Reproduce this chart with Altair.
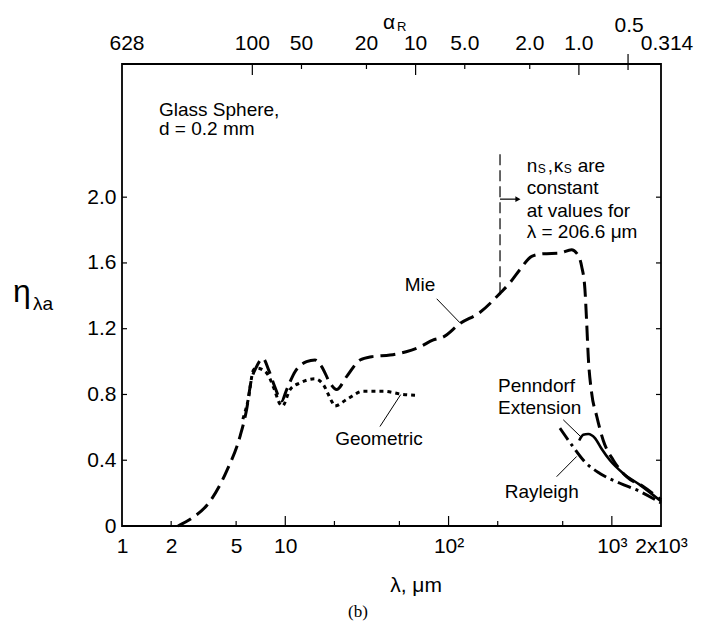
import altair as alt
import pandas as pd
import numpy as np

# ---------------- data ----------------
mie_lam = [2.2, 2.7, 3.4, 4.4, 5.3, 5.8, 6.2, 6.6, 7.3, 7.9, 8.6, 9.5, 10.2, 11.5, 13.5,
           15.2, 16.7, 18.8, 20.6, 23.8, 28.7, 33.8, 43.8, 55, 67, 80, 93, 117, 156, 206.6,
           238, 274, 323, 380, 481, 567, 608, 653, 684, 701, 717, 752, 807, 886, 1021,
           1231, 1556, 2000]
mie_eta = [0.0, 0.05, 0.14, 0.34, 0.55, 0.71, 0.89, 0.96, 1.02, 0.95, 0.85, 0.76, 0.83, 0.94, 1.00,
           1.01, 0.97, 0.87, 0.83, 0.91, 1.01, 1.03, 1.04, 1.06, 1.09, 1.13, 1.15, 1.23, 1.30, 1.415,
           1.48, 1.56, 1.64, 1.656, 1.66, 1.68, 1.66, 1.58, 1.44, 1.24, 1.03, 0.81, 0.67, 0.52, 0.40,
           0.30, 0.24, 0.16]

geo_lam = [5.5, 5.9, 6.4, 6.7, 7.7, 8.5, 9.3, 9.6, 10.7, 12.3, 15.2, 17.1, 19.2, 20.1, 23.8,
           30.1, 39.8, 52.8, 62.3]
geo_eta = [0.65, 0.76, 0.95, 0.96, 0.93, 0.84, 0.74, 0.73, 0.83, 0.87, 0.895, 0.86, 0.76, 0.73, 0.77,
           0.82, 0.82, 0.80, 0.795]

pen_lam = [631, 668, 717, 788, 865, 973, 1175, 1486, 2000]
pen_eta = [0.52, 0.555, 0.56, 0.535, 0.47, 0.40, 0.32, 0.25, 0.15]

ray_lam = [481, 581, 684, 845, 1122, 1486, 2000]
ray_eta = [0.595, 0.48, 0.39, 0.32, 0.26, 0.21, 0.14]

x_tick_vals = [1, 2, 5, 10, 100, 1000, 2000]
x_minor = [2, 5, 20, 50, 200, 500]
x_major = [10, 100, 1000]
y_tick_vals = [0, 0.4, 0.8, 1.2, 1.6, 2.0]
y_inner_ticks = [0.4, 0.8, 1.2, 1.6, 2.0]

alpha_major = [100, 10, 1]
alpha_minor = [50, 20, 5, 2]
alpha_mid_vals = [100, 50, 20, 10, 5, 2, 1]
alpha_mid_text = ["100", "50", "20", "10", "5.0", "2.0", "1.0"]
d_um = 200.0  # sphere diameter, um

lam_const = 206.6

FONT = "Liberation Sans"
W, H = 539, 462

XS = alt.Scale(type="log", domain=[1, 2000], nice=False)
YS = alt.Scale(domain=[0, 2.81], nice=False, zero=False)

XAX = alt.Axis(values=x_tick_vals, ticks=False, domain=False, grid=False, title=None,
               labelFont=FONT, labelFontSize=21, labelColor="black", labelPadding=9,
               labelOverlap=False, labelFlush=False,
               labelExpr="datum.value == 100 ? '10²' : datum.value == 1000 ? '10³' : "
                         "datum.value == 2000 ? '2x10³' : format(datum.value, 'd')")
YAX = alt.Axis(values=y_tick_vals, ticks=False, domain=False, grid=False, title=None,
               labelFont=FONT, labelFontSize=21, labelColor="black", labelPadding=6,
               labelOverlap=False, labelFlush=False,
               labelExpr="datum.value == 0 ? '0' : format(datum.value, '.1f')")


def ex(field="lam"):
    return alt.X(f"{field}:Q", scale=XS, axis=XAX)


def ey(field="eta"):
    return alt.Y(f"{field}:Q", scale=YS, axis=YAX)


def series(lam, eta):
    return pd.DataFrame({"lam": lam, "eta": eta})


mie = alt.Chart(series(mie_lam, mie_eta)).mark_line(
    color="black", strokeWidth=3, strokeDash=[15, 7], interpolate="monotone", strokeCap="butt"
).encode(x=ex(), y=ey())

geo = alt.Chart(series(geo_lam, geo_eta)).mark_line(
    color="black", strokeWidth=3, strokeDash=[4, 4], interpolate="monotone", strokeCap="butt"
).encode(x=ex(), y=ey())

pen = alt.Chart(series(pen_lam, pen_eta)).mark_line(
    color="black", strokeWidth=2.6, interpolate="monotone"
).encode(x=ex(), y=ey())

ray = alt.Chart(series(ray_lam, ray_eta)).mark_line(
    color="black", strokeWidth=3, strokeDash=[14, 5, 3, 5], interpolate="monotone", strokeCap="butt"
).encode(x=ex(), y=ey())

# ---- inward ticks ----
bot_major = alt.Chart(pd.DataFrame({"lam": x_major})).mark_rule(color="black", strokeWidth=1.2).encode(
    x=ex(), y=alt.value(H), y2=alt.value(H - 10))
bot_minor = alt.Chart(pd.DataFrame({"lam": x_minor})).mark_rule(color="black", strokeWidth=1.2).encode(
    x=ex(), y=alt.value(H), y2=alt.value(H - 5))
left_t = alt.Chart(pd.DataFrame({"eta": y_inner_ticks})).mark_rule(color="black", strokeWidth=1.2).encode(
    y=ey(), x=alt.value(0), x2=alt.value(5))
right_t = alt.Chart(pd.DataFrame({"eta": y_inner_ticks})).mark_rule(color="black", strokeWidth=1.2).encode(
    y=ey(), x=alt.value(W), x2=alt.value(W - 5))

top_major = alt.Chart(pd.DataFrame({"a": alpha_major})).transform_calculate(
    lam=f"{np.pi * d_um} / datum.a").mark_rule(color="black", strokeWidth=1.2).encode(
    x=ex(), y=alt.value(0), y2=alt.value(11))
top_minor = alt.Chart(pd.DataFrame({"a": alpha_minor})).transform_calculate(
    lam=f"{np.pi * d_um} / datum.a").mark_rule(color="black", strokeWidth=1.2).encode(
    x=ex(), y=alt.value(0), y2=alt.value(5))
half_line = alt.Chart(pd.DataFrame({"a": [0.5]})).transform_calculate(
    lam=f"{np.pi * d_um} / datum.a").mark_rule(color="black", strokeWidth=1.2).encode(
    x=ex(), y=alt.value(-10), y2=alt.value(6))

# ---- top alpha labels ----
top_lab = alt.Chart(pd.DataFrame({"a": alpha_mid_vals, "t": alpha_mid_text})).transform_calculate(
    lam=f"{np.pi * d_um} / datum.a").mark_text(
    font=FONT, fontSize=21, align="center", baseline="alphabetic", color="black").encode(
    x=ex(), y=alt.value(-14), text="t:N")
top_first = alt.Chart(pd.DataFrame({"a": [628.3], "t": ["628"]})).transform_calculate(
    lam=f"{np.pi * d_um} / datum.a").mark_text(
    font=FONT, fontSize=21, align="center", baseline="alphabetic", dx=5, color="black").encode(
    x=ex(), y=alt.value(-14), text="t:N")
top_last = alt.Chart(pd.DataFrame({"a": [0.3142], "t": ["0.314"]})).transform_calculate(
    lam=f"{np.pi * d_um} / datum.a").mark_text(
    font=FONT, fontSize=21, align="center", baseline="alphabetic", dx=6, color="black").encode(
    x=ex(), y=alt.value(-14), text="t:N")
top_half = alt.Chart(pd.DataFrame({"a": [0.5], "t": ["0.5"]})).transform_calculate(
    lam=f"{np.pi * d_um} / datum.a").mark_text(
    font=FONT, fontSize=21, align="center", baseline="alphabetic", dx=1, color="black").encode(
    x=ex(), y=alt.value(-32), text="t:N")

alpha_t = alt.Chart(pd.DataFrame({"t": ["α"]})).mark_text(
    font=FONT, fontSize=21, align="center", baseline="alphabetic", color="black").encode(
    x=alt.value(267), y=alt.value(-35), text="t:N")
alpha_r = alt.Chart(pd.DataFrame({"t": ["R"]})).mark_text(
    font=FONT, fontSize=13, align="left", baseline="alphabetic", color="black").encode(
    x=alt.value(275), y=alt.value(-33), text="t:N")

# ---- axis titles ----
eta_t = alt.Chart(pd.DataFrame({"t": ["η"]})).mark_text(
    font=FONT, fontSize=32, align="center", baseline="alphabetic", color="black").encode(
    x=alt.value(-100), y=alt.value(238), text="t:N")
eta_sub = alt.Chart(pd.DataFrame({"t": ["λa"]})).mark_text(
    font=FONT, fontSize=19, align="left", baseline="alphabetic", color="black").encode(
    x=alt.value(-89), y=alt.value(246), text="t:N")
x_title = alt.Chart(pd.DataFrame({"t": ["λ, μm"]})).mark_text(
    font=FONT, fontSize=21, align="center", baseline="middle", color="black").encode(
    x=alt.value(294), y=alt.value(522), text="t:N")
b_t = alt.Chart(pd.DataFrame({"t": ["(b)"]})).mark_text(
    font="Liberation Serif", fontSize=17, align="center", baseline="middle", color="black").encode(
    x=alt.value(236), y=alt.value(548), text="t:N")

# ---- annotations ----
ann_left = pd.DataFrame({
    "lam": [1.685, 1.685, 300.9, 300.9, 300.9, 200.7, 200.7, 221],
    "eta": [2.532, 2.415, 2.058, 1.916, 1.787, 0.849, 0.718, 0.204],
    "t": ["Glass Sphere,", "d = 0.2 mm", "constant", "at values for", "λ = 206.6 μm",
          "Penndorf", "Extension", "Rayleigh"],
})
ann_l = alt.Chart(ann_left).mark_text(
    font=FONT, fontSize=19, align="left", baseline="middle", color="black").encode(
    x=ex(), y=ey(), text="t:N")
ann_center = pd.DataFrame({"lam": [66.8, 37.5], "eta": [1.463, 0.530], "t": ["Mie", "Geometric"]})
ann_c = alt.Chart(ann_center).mark_text(
    font=FONT, fontSize=19, align="center", baseline="middle", color="black").encode(
    x=ex(), y=ey(), text="t:N")

# "n_S , κ_S are" built from pieces (main glyphs and lowered small subscripts)
ns_pieces = [("n", 0, 19, 0), ("S", 11, 12, 3), (",", 21, 19, 0), ("κ", 27, 19, 0),
             ("S", 37, 12, 3), ("are", 51, 19, 0)]
ns_layers = []
for txt, dx, fs, dy in ns_pieces:
    ns_layers.append(
        alt.Chart(pd.DataFrame({"lam": [300.9], "eta": [2.19], "t": [txt]})).mark_text(
            font=FONT, fontSize=fs, align="left", baseline="middle", color="black",
            dx=dx, dy=dy).encode(x=ex(), y=ey(), text="t:N"))
ns_l = alt.layer(*ns_layers)

leaders = pd.DataFrame({
    "lam": [84.6, 38.0, 504, 459],
    "eta": [1.382, 0.605, 0.646, 0.300],
    "lam2": [117.4, 50.9, 653, 609],
    "eta2": [1.236, 0.799, 0.538, 0.423],
})
lead = alt.Chart(leaders).mark_rule(color="black", strokeWidth=1).encode(
    x=ex(), y=ey(), x2="lam2:Q", y2="eta2:Q")

vline = alt.Chart(pd.DataFrame({"lam": [lam_const], "eta": [1.415], "eta2": [2.28]})).mark_rule(
    color="black", strokeWidth=1.2, strokeDash=[11, 5]).encode(x=ex(), y=ey(), y2="eta2:Q")
arrow = alt.Chart(pd.DataFrame({"lam": [lam_const], "eta": [1.988], "lam2": [262]})).mark_rule(
    color="black", strokeWidth=1.2).encode(x=ex(), y=ey(), x2="lam2:Q")
arrow_head = alt.Chart(pd.DataFrame({"lam": [266], "eta": [1.988]})).mark_point(
    shape="triangle-right", filled=True, size=35, color="black", opacity=1).encode(x=ex(), y=ey())

chart = alt.layer(
    mie, geo, pen, ray,
    bot_major, bot_minor, left_t, right_t, top_major, top_minor, half_line,
    top_lab, top_first, top_last, top_half, alpha_t, alpha_r,
    eta_t, eta_sub, x_title, b_t,
    ann_l, ann_c, ns_l, lead, vline, arrow, arrow_head,
).properties(
    width=W, height=H,
    autosize=alt.AutoSizeParams(type="none"),
    padding={"left": 114, "top": 56, "right": 38, "bottom": 105},
    background="white",
).configure_view(stroke="black", strokeWidth=1.8)

chart.save("out.html", embed_options={"renderer": "svg", "actions": False})
